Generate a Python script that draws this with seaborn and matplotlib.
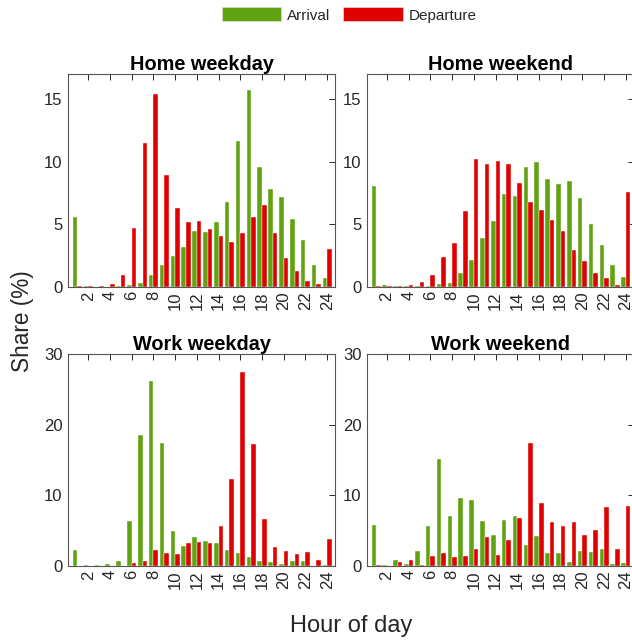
import numpy as np
import pandas as pd
import matplotlib
matplotlib.use("Agg")
import matplotlib.pyplot as plt
import seaborn as sns
from matplotlib.patches import Patch

sns.set_style("white")
plt.rcParams['font.family'] = ['Liberation Sans', 'DejaVu Sans']

hours = list(range(1, 25))
tick_hours = list(range(2, 25, 2))
tick_labels = [str(h) for h in tick_hours]

home_weekday_arr = [5.6, 0.1, 0.0, 0.0, 0.05, 0.13, 0.35, 0.93, 1.78, 2.5, 3.22, 4.47,
                    4.41, 5.21, 6.78, 11.68, 15.69, 9.57, 7.79, 7.18, 5.4, 3.78, 1.73, 0.7]
home_weekday_dep = [0.05, 0.1, 0.1, 0.2, 0.96, 4.73, 11.49, 15.4, 8.91, 6.33, 5.19, 5.29,
                    4.63, 4.04, 3.62, 4.31, 5.61, 6.52, 4.31, 2.31, 1.3, 0.48, 0.22, 3.06]
home_weekend_arr = [8.09, 0.16, 0.08, 0.08, 0.1, 0.1, 0.27, 0.32, 1.14, 2.18, 3.91, 5.29,
                    7.39, 7.26, 9.55, 9.95, 8.62, 8.19, 8.48, 7.13, 5.05, 3.38, 1.73, 0.82]
home_weekend_dep = [0.05, 0.05, 0.08, 0.16, 0.43, 0.96, 2.39, 3.48, 6.09, 10.21, 9.81, 10.08,
                    9.84, 8.32, 6.76, 6.17, 5.37, 4.44, 2.95, 2.07, 1.09, 0.69, 0.19, 7.55]
work_weekday_arr = [2.22, 0.14, 0.1, 0.28, 0.75, 6.37, 18.6, 26.2, 17.4, 5.0, 2.83, 4.15,
                    3.58, 3.21, 2.26, 1.84, 1.23, 0.75, 0.52, 0.28, 0.66, 0.71, 0.05, 0.1]
work_weekday_dep = [0.05, 0.05, 0.05, 0.0, 0.05, 0.42, 0.71, 2.22, 1.84, 1.7, 3.21, 3.35,
                    3.3, 5.61, 12.31, 27.4, 17.2, 6.6, 2.69, 2.12, 1.75, 1.98, 0.85, 3.8]
work_weekend_arr = [5.87, 0.1, 0.85, 0.28, 2.07, 5.59, 15.2, 7.04, 9.67, 9.34, 6.34, 4.37,
                    6.48, 7.14, 2.91, 4.23, 1.83, 1.78, 0.52, 2.07, 1.97, 2.35, 0.28, 0.47]
work_weekend_dep = [0.19, 0.05, 0.56, 0.85, 0.19, 1.46, 1.78, 1.22, 1.36, 2.44, 4.04, 1.5,
                    3.66, 6.81, 17.4, 8.87, 6.24, 5.63, 6.24, 4.37, 5.07, 8.31, 2.35, 8.45]

titles = ["Home weekday", "Home weekend", "Work weekday", "Work weekend"]
series = [(home_weekday_arr, home_weekday_dep), (home_weekend_arr, home_weekend_dep),
          (work_weekday_arr, work_weekday_dep), (work_weekend_arr, work_weekend_dep)]
series_names = ["Arrival", "Departure"]
colors = {"Arrival": "#60a210", "Departure": "#e00000"}

W, H = 632, 642
fig = plt.figure(figsize=(W / 100, H / 100), dpi=100)

ax_w = 267 / W
lefts = [68.3 / W, 367 / W]
top_b, top_h = (H - 287) / H, (287 - 74) / H
bot_b, bot_h = (H - 566) / H, (566 - 354) / H
positions = [(lefts[0], top_b, ax_w, top_h), (lefts[1], top_b, ax_w, top_h),
             (lefts[0], bot_b, ax_w, bot_h), (lefts[1], bot_b, ax_w, bot_h)]
ylims = [(0, 17), (0, 17), (0, 30), (0, 30)]
yticks = [[0, 5, 10, 15], [0, 5, 10, 15], [0, 10, 20, 30], [0, 10, 20, 30]]

for i in range(4):
    ax = fig.add_axes(positions[i])
    arr, dep = series[i]
    df = pd.DataFrame({
        "Hour": hours * 2,
        "Share": list(arr) + list(dep),
        "Type": ["Arrival"] * 24 + ["Departure"] * 24,
    })
    sns.barplot(data=df, x="Hour", y="Share", hue="Type", hue_order=series_names,
                palette=colors, native_scale=True, width=0.85, saturation=1,
                edgecolor="white", linewidth=0.3, legend=False, ax=ax)
    ax.set_xlim(0.16, 24.75)
    ax.set_ylim(*ylims[i])
    ax.set_xticks(tick_hours)
    ax.set_xticklabels(tick_labels, rotation=90)
    ax.set_yticks(yticks[i])
    ax.set_xlabel("")
    ax.set_ylabel("")
    ax.set_title(titles[i], fontsize=14.3, fontweight="bold", pad=3, color="black")
    ax.tick_params(direction="in", length=4, width=0.7, colors="#262626",
                   labelsize=12, top=True, right=True, pad=3)
    ax.tick_params(axis="y", pad=4)
    for s in ax.spines.values():
        s.set_visible(True)
        s.set_color("#555555")
        s.set_linewidth(0.8)

fig.text(0.035, (H - 321) / H, "Share (%)", rotation=90, ha="center", va="center",
         fontsize=16.3, color="#262626")
fig.text(351 / W, 1 - 626 / H, "Hour of day", ha="center", va="center",
         fontsize=17, color="#262626")

handles = [Patch(facecolor=colors[n], edgecolor="#dddddd", linewidth=0.5, label=n)
           for n in series_names]
fig.legend(handles=handles, loc="center", bbox_to_anchor=(349 / W, 1 - 15 / H), ncol=2,
           frameon=False, fontsize=11, handlelength=3.9, handleheight=1.0,
           handletextpad=0.35, columnspacing=0.9, borderpad=0)

fig.savefig("out.png", dpi=100)
